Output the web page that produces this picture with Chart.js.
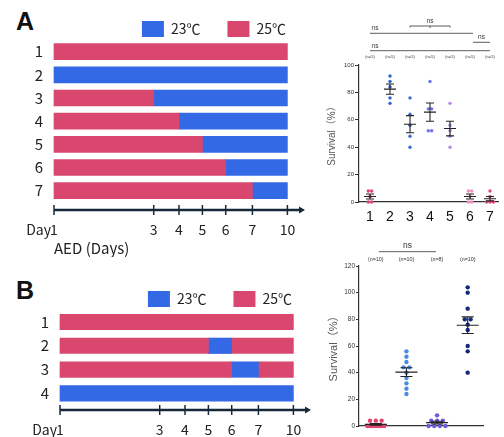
<!DOCTYPE html>
<html>
<head>
<meta charset="utf-8">
<script src="https://cdn.jsdelivr.net/npm/chart.js@4.4.1/dist/chart.umd.min.js"></script>
<style>
  html, body { margin: 0; padding: 0; background: #fff; }
  body { width: 504px; height: 437px; position: relative; overflow: hidden; }
  canvas { position: absolute; }
  .panel { position: absolute; font: bold 25px "Liberation Sans", Arial, sans-serif; color: #111; line-height: 1; }
</style>
</head>
<body>
<div class="panel" style="left:16px;top:9px">A</div>
<div class="panel" style="left:16px;top:278px">B</div>
<canvas id="timeline-a" width="313" height="263" style="left:0;top:-6px"></canvas>
<canvas id="timeline-b" width="313" height="173" style="left:6px;top:264px"></canvas>
<canvas id="survival-a" width="184" height="227" style="left:320px;top:0"></canvas>
<canvas id="survival-b" width="184" height="197" style="left:320px;top:240px"></canvas>
<script>
// ---- data ----
const dayTicks = [1, 3, 4, 5, 6, 7, 10];
const temps = [23, 25];

const rowsA = ['1', '2', '3', '4', '5', '6', '7'];
// [from day, to day, temperature]
const scheduleA = [
  [[1, 10, 25]],
  [[1, 10, 23]],
  [[1, 3, 25], [3, 10, 23]],
  [[1, 4, 25], [4, 10, 23]],
  [[1, 5, 25], [5, 10, 23]],
  [[1, 6, 25], [6, 10, 23]],
  [[1, 7, 25], [7, 10, 23]]
];

const rowsB = ['1', '2', '3', '4'];
const scheduleB = [
  [[1, 10, 25]],
  [[1, 5, 25], [5, 6, 23], [6, 10, 25]],
  [[1, 6, 25], [6, 7, 23], [7, 10, 25]],
  [[1, 10, 23]]
];

const groupsA = ['1', '2', '3', '4', '5', '6', '7'];
const survivalA = [
  [8, 8, 4, 0, 0],
  [92, 88, 84, 76, 72],
  [76, 64, 56, 48, 40],
  [88, 68, 68, 52, 52],
  [72, 56, 52, 48, 40],
  [8, 8, 4, 0, 0],
  [8, 4, 0, 0, 0]
];
const pairsA = [[1, 6], [1, 7], [3, 5], [6, 7]];
const pairLabelsA = ['ns', 'ns', 'ns', 'ns'];

const groupsB = ['1', '2', '3', '4'];
const survivalB = [
  [4, 4, 4, 0, 0, 0, 0, 0, 0, 0],
  [56, 52, 48, 44, 44, 40, 36, 32, 28, 24],
  [8, 4, 4, 4, 0, 0, 0, 0],
  [104, 100, 88, 80, 80, 76, 72, 60, 56, 40]
];
const pairsB = [[1, 3]];
const pairLabelsB = ['ns'];

// ---- look ----
const tempColors = { 23: '#3469e6', 25: '#d9476f' };
const colorsA = ['#e0446f', '#2f62cc', '#3a6ad2', '#6f72e6', '#b38ae6', '#f08fc0', '#e04a7c'];
const colorsB = ['#e0446f', '#4a8be6', '#6c5cde', '#14287e'];
const jpFont = '"Noto Sans CJK JP", "Liberation Sans", sans-serif';
const sansFont = '"Liberation Sans", Arial, "Noto Sans CJK JP", sans-serif';
// the day axis is drawn unevenly spaced, px from Day 1
const axisStops = [0, 99.7, 125, 148.4, 171.7, 198.4, 233.4];

function toAxis(day) {
  for (let i = 0; i < dayTicks.length - 1; i++) {
    if (day <= dayTicks[i + 1]) {
      const f = (day - dayTicks[i]) / (dayTicks[i + 1] - dayTicks[i]);
      return axisStops[i] + f * (axisStops[i + 1] - axisStops[i]);
    }
  }
  return axisStops[axisStops.length - 1];
}

function timelineDatasets(schedule, thickness) {
  const sets = [];
  const maxSeg = Math.max(...schedule.map(r => r.length));
  for (let s = 0; s < maxSeg; s++) {
    temps.forEach(t => {
      const data = [];
      schedule.forEach((row, i) => {
        if (row[s] && row[s][2] === t) {
          data.push({ x: [toAxis(row[s][0]), toAxis(row[s][1])], y: i + 1 });
        }
      });
      if (data.length) {
        sets.push({
          label: t + '℃', data,
          backgroundColor: tempColors[t],
          borderWidth: 0, barThickness: thickness, clip: false
        });
      }
    });
  }
  return sets;
}

const dayAxis = {
  id: 'dayAxis',
  afterDraw(chart) {
    const { ctx, chartArea } = chart;
    const x = chart.scales.x;
    const y0 = chartArea.bottom;
    const tip = chartArea.right - 8;
    ctx.save();
    ctx.strokeStyle = '#17283a';
    ctx.fillStyle = '#17283a';
    ctx.lineWidth = 2.5;
    ctx.beginPath();
    ctx.moveTo(chartArea.left, y0);
    ctx.lineTo(tip - 4, y0);
    ctx.stroke();
    ctx.beginPath();
    ctx.moveTo(tip, y0);
    ctx.lineTo(tip - 6, y0 - 3.5);
    ctx.lineTo(tip - 6, y0 + 3.5);
    ctx.closePath();
    ctx.fill();
    ctx.lineWidth = 1.5;
    x.ticks.forEach(t => {
      const px = x.getPixelForValue(t.value);
      ctx.beginPath();
      ctx.moveTo(px, y0 - 5);
      ctx.lineTo(px, y0 + 5);
      ctx.stroke();
    });
    // "Day" in front of the first tick label
    ctx.fillStyle = '#222';
    ctx.font = '14px ' + jpFont;
    ctx.textAlign = 'right';
    ctx.textBaseline = 'middle';
    ctx.fillText('Day', x.getPixelForValue(x.ticks[0].value) - 3, y0 + 11 + 8.4);
    ctx.restore();
  }
};

function makeTimeline(id, rows, schedule, o) {
  new Chart(document.getElementById(id), {
    type: 'bar',
    data: { datasets: timelineDatasets(schedule, o.thickness) },
    options: {
      responsive: false,
      animation: false,
      indexAxis: 'y',
      grouped: false,
      layout: { padding: 0 },
      plugins: {
        tooltip: { enabled: false },
        legend: {
          position: 'top',
          align: 'end',
          fullSize: false,
          labels: {
            boxWidth: 22,
            boxHeight: 16,
            padding: 27,
            color: '#222',
            font: { family: jpFont, size: 14 },
            generateLabels: () => temps.map(t => ({
              text: t + '℃', fillStyle: tempColors[t], strokeStyle: tempColors[t],
              lineWidth: 0, hidden: false, fontColor: '#222'
            }))
          }
        }
      },
      scales: {
        x: {
          type: 'linear',
          min: 0,
          max: 259,
          afterBuildTicks: s => { s.ticks = dayTicks.map(d => ({ value: toAxis(d) })); },
          afterFit: s => { s.height = o.xHeight; },
          ticks: {
            autoSkip: false, maxRotation: 0, padding: 11,
            color: '#222', font: { family: jpFont, size: 14 },
            callback: (v, i) => String(dayTicks[i])
          },
          grid: { display: false, drawTicks: false },
          border: { display: false },
          title: {
            display: !!o.title, text: o.title || '', align: 'start',
            color: '#222', font: { family: jpFont, size: 15 }, padding: 0
          }
        },
        y: {
          type: 'linear',
          reverse: true,
          offset: false,
          min: o.yMin,
          max: o.yMax,
          afterBuildTicks: s => { s.ticks = rows.map((r, i) => ({ value: i + 1 })); },
          afterFit: s => { s.width = 54; },
          ticks: {
            padding: 11, color: '#222', font: { family: jpFont, size: 15 },
            callback: v => rows[v - 1]
          },
          grid: { display: false, drawTicks: false },
          border: { display: false }
        }
      }
    },
    plugins: [dayAxis]
  });
}

makeTimeline('timeline-a', rowsA, scheduleA, { thickness: 16, yMin: 0.797, yMax: 7.833, xHeight: 47, title: 'AED (Days)' });
makeTimeline('timeline-b', rowsB, scheduleB, { thickness: 15.5, yMin: 0.79, yMax: 4.70, xHeight: 27 });

// ---- survival dot plots ----
function spread(vals, center, step, maxSpan) {
  const counts = {};
  vals.forEach(v => { counts[v] = (counts[v] || 0) + 1; });
  const seen = {};
  return vals.map(v => {
    const c = counts[v];
    const k = seen[v] = (seen[v] === undefined ? 0 : seen[v] + 1);
    const s = c > 1 ? Math.min(step, maxSpan / (c - 1)) : 0;
    return { x: center + (k - (c - 1) / 2) * s, y: v };
  });
}

const meanSem = {
  id: 'meanSem',
  afterDatasetsDraw(chart, args, opts) {
    const { ctx } = chart;
    const { x, y } = chart.scales;
    ctx.save();
    ctx.strokeStyle = '#222';
    ctx.lineWidth = 1.1;
    chart.data.datasets.forEach((ds, g) => {
      const vals = ds.data.map(p => p.y);
      const n = vals.length;
      const m = vals.reduce((a, b) => a + b, 0) / n;
      const sd = Math.sqrt(vals.reduce((a, v) => a + (v - m) * (v - m), 0) / (n - 1));
      const sem = sd / Math.sqrt(n);
      const cx = x.getPixelForValue(g + 1);
      const ym = y.getPixelForValue(m);
      const yt = y.getPixelForValue(m + sem);
      const yb = y.getPixelForValue(Math.max(m - sem, -2));
      ctx.beginPath();
      ctx.moveTo(cx - opts.meanHalf, ym); ctx.lineTo(cx + opts.meanHalf, ym);
      ctx.moveTo(cx, yt); ctx.lineTo(cx, yb);
      ctx.moveTo(cx - opts.capHalf, yt); ctx.lineTo(cx + opts.capHalf, yt);
      ctx.moveTo(cx - opts.capHalf, yb); ctx.lineTo(cx + opts.capHalf, yb);
      ctx.stroke();
    });
    ctx.restore();
  }
};

const groupNotes = {
  id: 'groupNotes',
  afterDraw(chart, args, opts) {
    const { ctx } = chart;
    const x = chart.scales.x;
    ctx.save();
    ctx.fillStyle = '#333';
    ctx.strokeStyle = '#333';
    ctx.lineWidth = 0.8;
    ctx.textAlign = 'center';
    ctx.textBaseline = 'middle';
    ctx.font = opts.nSize + 'px ' + sansFont;
    chart.data.datasets.forEach((ds, g) => {
      ctx.fillText('(n=' + ds.data.length + ')', x.getPixelForValue(g + 1), opts.nY);
    });
    ctx.font = opts.nsSize + 'px ' + sansFont;
    opts.pairs.forEach((p, i) => {
      const st = opts.styles[i];
      const x1 = x.getPixelForValue(p[0]) + (st.dx1 || 0);
      const x2 = x.getPixelForValue(p[1]) + (st.dx2 || 0);
      ctx.beginPath();
      ctx.moveTo(x1, st.y); ctx.lineTo(x2, st.y);
      if (st.bracket) {
        ctx.moveTo(x1, st.y); ctx.lineTo(x1, st.y + 1.5);
        ctx.moveTo(x2, st.y); ctx.lineTo(x2, st.y + 1.5);
        const xm = x.getPixelForValue((p[0] + p[1]) / 2);
        ctx.moveTo(xm, st.y); ctx.lineTo(xm, st.y + 2);
      }
      ctx.stroke();
      const lx = st.labelStart ? x1 + 5 : (x1 + x2) / 2;
      ctx.fillText(opts.labels[i], lx, st.y - opts.nsSize * 0.75);
    });
    ctx.restore();
  }
};

function makeSurvival(id, groups, values, o) {
  new Chart(document.getElementById(id), {
    type: 'scatter',
    data: {
      datasets: values.map((vals, g) => ({
        label: groups[g],
        data: spread(vals, g + 1, o.step, o.maxSpan),
        backgroundColor: o.colors[g],
        borderWidth: 0,
        pointRadius: o.radius,
        clip: false
      }))
    },
    options: {
      responsive: false,
      animation: false,
      layout: { padding: { top: o.padTop, right: o.padRight, left: 0, bottom: 0 } },
      plugins: {
        legend: { display: false },
        tooltip: { enabled: false },
        meanSem: o.meanSem,
        groupNotes: o.notes
      },
      scales: {
        x: {
          type: 'linear',
          min: o.xMin,
          max: o.xMax,
          afterBuildTicks: s => { s.ticks = groups.map((gname, i) => ({ value: i + 1 })); },
          afterFit: s => { s.height = o.xHeight; },
          ticks: {
            display: o.xLabels, autoSkip: false, maxRotation: 0, padding: 7,
            color: '#111', font: { family: sansFont, size: 14 },
            callback: (v, i) => groups[i]
          },
          grid: { display: false, drawTicks: false },
          border: { color: '#333', width: 1.2 }
        },
        y: {
          min: 0,
          max: o.yMax,
          afterFit: s => { s.width = o.yWidth; },
          ticks: {
            stepSize: 20, padding: 1, color: '#333',
            font: { family: sansFont, size: o.tickSize }
          },
          grid: { drawOnChartArea: false, tickLength: o.tickLen, color: '#333', lineWidth: 1 },
          border: { color: '#333', width: 1.2 },
          title: {
            display: true, text: 'Survival（%）', color: '#555',
            font: { family: sansFont, size: o.titleSize },
            padding: { top: o.titlePad, bottom: 0 }
          }
        }
      }
    },
    plugins: [meanSem, groupNotes]
  });
}

makeSurvival('survival-a', groupsA, survivalA, {
  colors: colorsA, radius: 1.7, step: 0.17, maxSpan: 0.5,
  padTop: 65, padRight: 6, xMin: 0.45, xMax: 7.4, xHeight: 25, xLabels: true,
  yMax: 100, yWidth: 39, tickSize: 6, tickLen: 4, titleSize: 10, titlePad: 6,
  meanSem: { meanHalf: 6, capHalf: 4 },
  notes: {
    nY: 57, nSize: 4, nsSize: 6.5,
    pairs: pairsA, labels: pairLabelsA,
    styles: [
      { y: 33.3, dx2: 3, labelStart: true },
      { y: 50.7, labelStart: true },
      { y: 26, bracket: true },
      { y: 42.3, dx1: 3 }
    ]
  }
});

makeSurvival('survival-b', groupsB, survivalB, {
  colors: colorsB, radius: 2.2, step: 0.19, maxSpan: 0.55,
  padTop: 26, padRight: 21, xMin: 0.45, xMax: 4.5, xHeight: 11, xLabels: false,
  yMax: 120, yWidth: 39, tickSize: 6.5, tickLen: 3, titleSize: 11, titlePad: 7.5,
  meanSem: { meanHalf: 11, capHalf: 6 },
  notes: {
    nY: 20, nSize: 5.3, nsSize: 8.5,
    pairs: pairsB, labels: pairLabelsB,
    styles: [ { y: 11.7, dx1: 3, dx2: -1 } ]
  }
});
</script>
</body>
</html>
